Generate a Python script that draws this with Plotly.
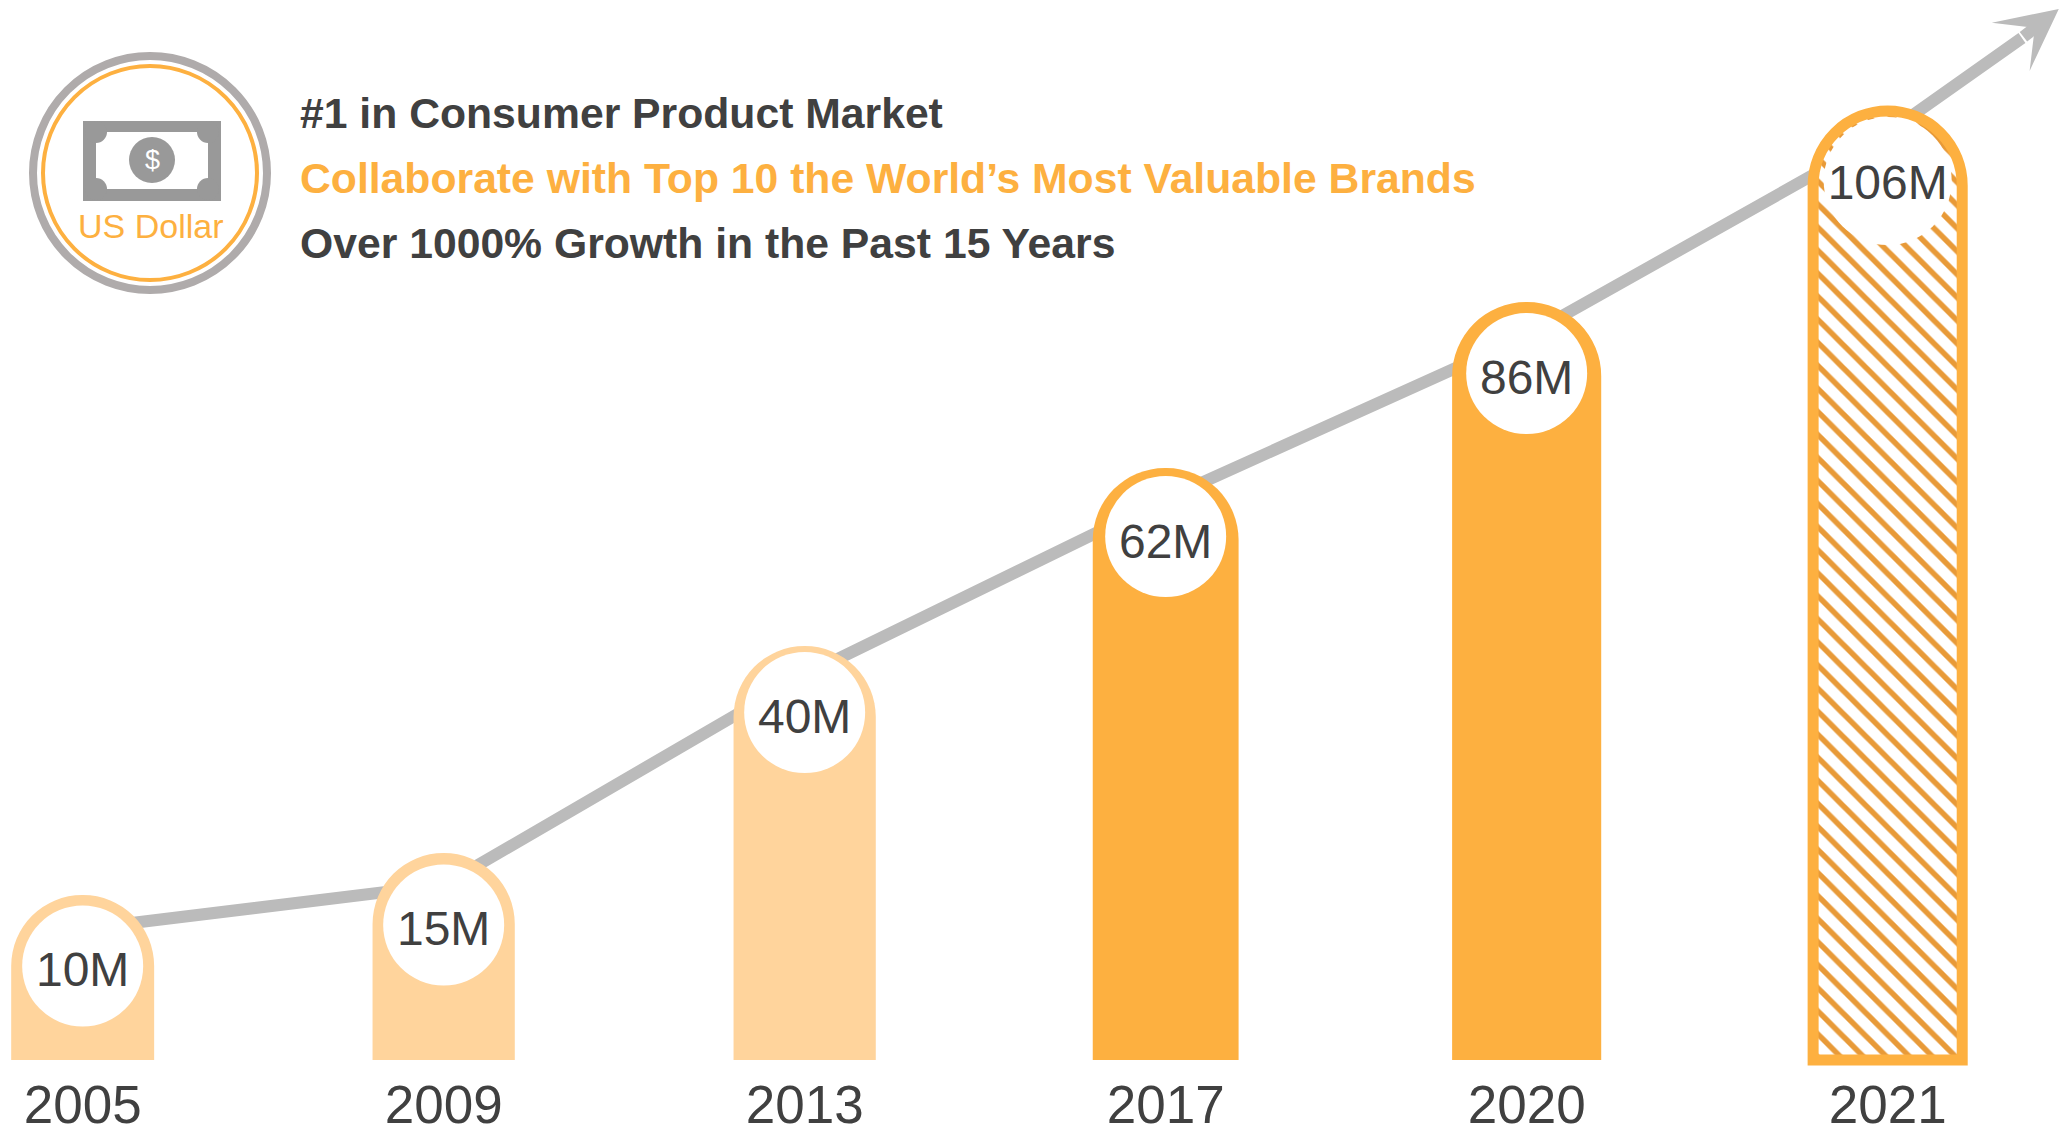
import plotly.graph_objects as go

W, H = 2066, 1129

years = ["2005", "2009", "2013", "2017", "2020", "2021"]
positions = [0, 1, 2, 3, 4, 5]
value_labels = ["10M", "15M", "40M", "62M", "86M", "106M"]
bar_heights = [165, 207, 414, 592, 758, 949]
bar_widths = [0.396, 0.394, 0.394, 0.404, 0.413, 0.413]
bar_colors = ["#FFD49C", "#FFD49C", "#FFD49C", "#FDB040", "#FDB040"]
circle_y = [94, 135, 347.5, 523.5, 686.5, 879]
circle_sizes = [121, 121, 121, 121, 121, 128]
label_y = [86, 127, 339, 514, 678, 873]
trend_x = [0, 1, 2, 3, 4, 5, 5.372]
trend_y = [131, 175, 385, 561, 724, 927, 1022]
arrow_tip = (5.474, 1051)

DARK = "#404040"
ORANGE = "#FDB040"
GREY = "#BBBBBB"
FONT = "Liberation Sans"

def px(x):
    return x / W

def py(y):
    return 1 - y / H

def circle(cx, cy, r, **kw):
    return dict(type="circle", xref="paper", yref="paper",
                x0=px(cx - r), x1=px(cx + r), y0=py(cy + r), y1=py(cy - r), **kw)

def rect(x0, y0, x1, y1, color):
    return dict(type="rect", xref="paper", yref="paper",
                x0=px(x0), x1=px(x1), y0=py(y1), y1=py(y0),
                fillcolor=color, line=dict(width=0))

fig = go.Figure()

fig.add_trace(go.Scatter(
    x=trend_x, y=trend_y, mode="lines", zorder=-1,
    line=dict(color=GREY, width=12), hoverinfo="skip", showlegend=False))

fig.add_trace(go.Bar(
    x=positions[:5], y=bar_heights[:5], width=bar_widths[:5], zorder=0,
    marker=dict(color=bar_colors, cornerradius="50%", line=dict(width=0)),
    showlegend=False))

fig.add_trace(go.Bar(
    x=positions[5:], y=bar_heights[5:], width=bar_widths[5:], zorder=0,
    marker=dict(
        color="#FFFFFF", cornerradius="50%",
        line=dict(color=ORANGE, width=11),
        pattern=dict(shape="\\", fgcolor="#E89A38", bgcolor="#FFFFFF", fgopacity=1,
                     size=16.3, solidity=0.34, fillmode="overlay")),
    showlegend=False))

fig.add_trace(go.Scatter(
    x=positions, y=circle_y, mode="markers", zorder=1,
    marker=dict(color="#FFFFFF", opacity=1, size=circle_sizes, line=dict(width=0)),
    hoverinfo="skip", showlegend=False))

fig.add_trace(go.Scatter(
    x=positions, y=label_y, mode="text", zorder=2, text=value_labels,
    textposition="middle center",
    textfont=dict(family=FONT, size=48, color=DARK),
    hoverinfo="skip", showlegend=False))

shapes = [
    circle(150, 173, 117, fillcolor="#FFFFFF", line=dict(color="#AFABAB", width=8)),
    circle(150, 173, 107, fillcolor="#FFFFFF", line=dict(color=ORANGE, width=4)),
    rect(83, 121, 221, 201, "#999999"),
    rect(96, 132, 208, 189, "#FFFFFF"),
]
for cx in (96, 208):
    for cy in (132, 189):
        shapes.append(circle(cx, cy, 11, fillcolor="#999999", line=dict(width=0)))
shapes.append(circle(152, 160, 23, fillcolor="#999999", line=dict(width=0)))

def note(text, x, y, size, color, bold=False, anchor="left"):
    return dict(text=f"<b>{text}</b>" if bold else text,
                xref="paper", yref="paper", x=px(x), y=py(y),
                xanchor=anchor, yanchor="middle", showarrow=False,
                font=dict(family=FONT, size=size, color=color))

annotations = [
    note("$", 152, 160, 27, "#FFFFFF", bold=False, anchor="center"),
    note("US Dollar", 150, 226, 34, ORANGE, anchor="center"),
    note("#1 in Consumer Product Market", 298, 113, 42.7, DARK, bold=True),
    note("Collaborate with Top 10 the World’s Most Valuable Brands", 298, 178, 42.7, ORANGE, bold=True),
    note("Over 1000% Growth in the Past 15 Years", 298, 243, 42.7, DARK, bold=True),
    dict(x=arrow_tip[0], y=arrow_tip[1], ax=trend_x[-1], ay=trend_y[-1],
         xref="x", yref="y", axref="x", ayref="y", text="", showarrow=True,
         arrowhead=3, arrowsize=0.85, arrowwidth=12, arrowcolor=GREY, standoff=0),
]

fig.update_layout(
    width=W, height=H, margin=dict(l=0, r=0, t=0, b=0),
    paper_bgcolor="#FFFFFF", plot_bgcolor="rgba(0,0,0,0)",
    barmode="overlay", showlegend=False,
    xaxis=dict(range=[-0.229, 5.494], tickmode="array", tickvals=positions, ticktext=years,
               showgrid=False, zeroline=False, showline=False, ticks="",
               tickfont=dict(family=FONT, size=53, color=DARK), automargin=False),
    yaxis=dict(range=[-9, 1060], domain=[(H - 1069) / H, 1], visible=False, automargin=False),
    shapes=shapes, annotations=annotations,
)

fig.write_html("out.html", config=dict(displayModeBar=False),
               post_script="document.body.style.margin='0';document.documentElement.style.overflow='hidden';")
